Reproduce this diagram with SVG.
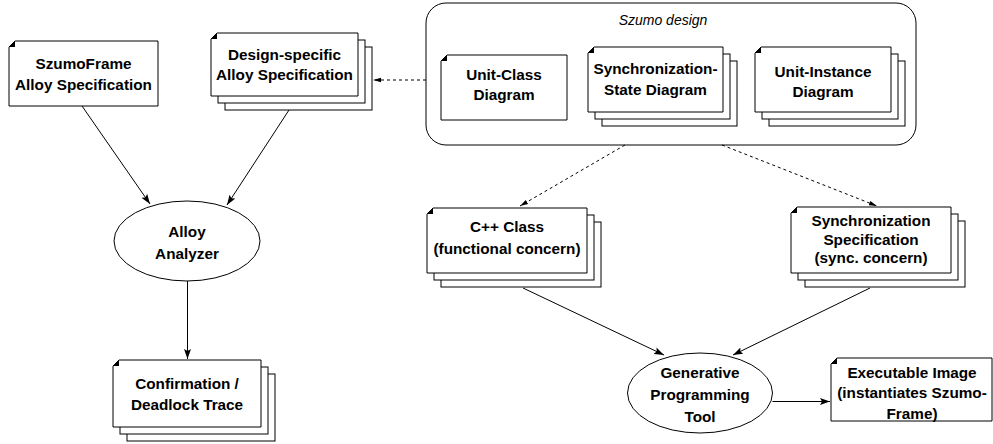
<svg xmlns="http://www.w3.org/2000/svg" width="993" height="444" viewBox="0 0 993 444">
  <style>
    .box { fill: #fff; stroke: #000; stroke-width: 1; }
    .fold { fill: #000; stroke: none; }
    .oval { fill: #fff; stroke: #000; stroke-width: 1; }
    .lbl { font-family: "Liberation Sans", Arial, Helvetica, sans-serif; font-weight: bold; font-size: 15.3px; fill: #000; text-anchor: middle; }
    .title { font-family: "Liberation Sans", Arial, Helvetica, sans-serif; font-style: italic; font-size: 14px; fill: #000; text-anchor: middle; }
    .edge { fill: none; stroke: #000; stroke-width: 1; }
    .dash { fill: none; stroke: #000; stroke-width: 1; stroke-dasharray: 3 3; }
  </style>
  <defs>
    <marker id="arrow" viewBox="0 0 10 8" refX="10" refY="4" markerWidth="10" markerHeight="8" markerUnits="userSpaceOnUse" orient="auto">
      <path d="M0,0.5 L10,4 L0,7.5 L2,4 Z" fill="#000"/>
    </marker>
    <marker id="darrow" viewBox="0 0 8 6" refX="8" refY="3" markerWidth="8" markerHeight="6" markerUnits="userSpaceOnUse" orient="auto">
      <path d="M0,0.8 L8,3 L0,5.2 Z" fill="#000"/>
    </marker>
  </defs>

  <!-- Container holding the design diagrams -->
  <g id="szumo-design">
    <rect x="426" y="3" width="490" height="142" rx="20" ry="20" class="box"/>
    <text x="663" y="25" class="title">Szumo design</text>
  </g>

  <!-- Connectors -->
  <g id="connectors">
    <line x1="82" y1="106" x2="150" y2="204" class="edge" marker-end="url(#arrow)"/>
    <line x1="289" y1="110" x2="227" y2="205" class="edge" marker-end="url(#arrow)"/>
    <line x1="187.5" y1="281" x2="187.5" y2="359" class="edge" marker-end="url(#arrow)"/>
    <line x1="426" y1="80" x2="373" y2="80" class="dash" marker-end="url(#darrow)"/>
    <line x1="625" y1="145" x2="520" y2="206" class="dash" marker-end="url(#darrow)"/>
    <line x1="722" y1="145" x2="877" y2="206" class="dash" marker-end="url(#darrow)"/>
    <line x1="523" y1="288" x2="664" y2="355" class="edge" marker-end="url(#arrow)"/>
    <line x1="870" y1="288" x2="733" y2="355" class="edge" marker-end="url(#arrow)"/>
    <line x1="772.5" y1="401.5" x2="830" y2="401.5" class="edge" marker-end="url(#arrow)"/>
  </g>

  <!-- SzumoFrame Alloy Specification -->
  <g id="szumoframe-spec">
    <path d="M9,47 L15,41 L158,41 L158,106 L9,106 Z" class="box"/>
    <path d="M9,47 L15,41 L15,47 Z" class="fold"/>
    <text x="83.5" y="69" class="lbl">SzumoFrame</text>
    <text x="83.5" y="90" class="lbl">Alloy Specification</text>
  </g>

  <!-- Design-specific Alloy Specification (stack) -->
  <g id="design-spec">
    <rect x="225" y="47" width="147" height="63" class="box"/>
    <rect x="218" y="40" width="147" height="63" class="box"/>
    <path d="M211,39 L217,33 L358,33 L358,96 L211,96 Z" class="box"/>
    <path d="M211,39 L217,33 L217,39 Z" class="fold"/>
    <text x="284.5" y="60" class="lbl">Design-specific</text>
    <text x="284.5" y="80" class="lbl">Alloy Specification</text>
  </g>

  <!-- Unit-Class Diagram -->
  <g id="unit-class">
    <path d="M441,61 L447,55 L567,55 L567,120 L441,120 Z" class="box"/>
    <path d="M441,61 L447,55 L447,61 Z" class="fold"/>
    <text x="504" y="80" class="lbl">Unit-Class</text>
    <text x="504" y="100" class="lbl">Diagram</text>
  </g>

  <!-- Synchronization-State Diagram (stack) -->
  <g id="sync-state">
    <rect x="602" y="61" width="135" height="65" class="box"/>
    <rect x="595" y="54" width="135" height="65" class="box"/>
    <path d="M588,53 L594,47 L723,47 L723,112 L588,112 Z" class="box"/>
    <path d="M588,53 L594,47 L594,53 Z" class="fold"/>
    <text x="655.5" y="74" class="lbl">Synchronization-</text>
    <text x="655.5" y="95" class="lbl">State Diagram</text>
  </g>

  <!-- Unit-Instance Diagram (stack) -->
  <g id="unit-instance">
    <rect x="769" y="61" width="136" height="65" class="box"/>
    <rect x="762" y="54" width="136" height="65" class="box"/>
    <path d="M755,53 L761,47 L891,47 L891,112 L755,112 Z" class="box"/>
    <path d="M755,53 L761,47 L761,53 Z" class="fold"/>
    <text x="823" y="76.5" class="lbl">Unit-Instance</text>
    <text x="823" y="96.5" class="lbl">Diagram</text>
  </g>

  <!-- Alloy Analyzer -->
  <g id="alloy-analyzer">
    <ellipse cx="187" cy="241" rx="73" ry="40" class="oval"/>
    <text x="187" y="236.5" class="lbl">Alloy</text>
    <text x="187" y="259" class="lbl">Analyzer</text>
  </g>

  <!-- Confirmation / Deadlock Trace (stack) -->
  <g id="confirmation">
    <rect x="127" y="374" width="148" height="67" class="box"/>
    <rect x="120" y="367" width="148" height="67" class="box"/>
    <path d="M113,366 L119,360 L261,360 L261,427 L113,427 Z" class="box"/>
    <path d="M113,366 L119,360 L119,366 Z" class="fold"/>
    <text x="187" y="388.5" class="lbl">Confirmation /</text>
    <text x="187" y="409.5" class="lbl">Deadlock Trace</text>
  </g>

  <!-- C++ Class (stack) -->
  <g id="cpp-class">
    <rect x="441" y="222" width="160" height="65" class="box"/>
    <rect x="434" y="215" width="160" height="65" class="box"/>
    <path d="M427,214 L433,208 L587,208 L587,273 L427,273 Z" class="box"/>
    <path d="M427,214 L433,208 L433,214 Z" class="fold"/>
    <text x="507" y="231.5" class="lbl">C++ Class</text>
    <text x="507" y="254" class="lbl">(functional concern)</text>
  </g>

  <!-- Synchronization Specification (stack) -->
  <g id="sync-spec">
    <rect x="805" y="221" width="160" height="66" class="box"/>
    <rect x="798" y="214" width="160" height="66" class="box"/>
    <path d="M791,213 L797,207 L951,207 L951,273 L791,273 Z" class="box"/>
    <path d="M791,213 L797,207 L797,213 Z" class="fold"/>
    <text x="871" y="226" class="lbl">Synchronization</text>
    <text x="871" y="244.5" class="lbl">Specification</text>
    <text x="871" y="263" class="lbl">(sync. concern)</text>
  </g>

  <!-- Generative Programming Tool -->
  <g id="generative-tool">
    <ellipse cx="700" cy="393" rx="72.5" ry="40" class="oval"/>
    <text x="700" y="378" class="lbl">Generative</text>
    <text x="700" y="400" class="lbl">Programming</text>
    <text x="700" y="421.5" class="lbl">Tool</text>
  </g>

  <!-- Executable Image -->
  <g id="executable-image">
    <path d="M831,364 L837,358 L992,358 L992,421 L831,421 Z" class="box"/>
    <path d="M831,364 L837,358 L837,364 Z" class="fold"/>
    <text x="912" y="377.5" class="lbl">Executable Image</text>
    <text x="912" y="398" class="lbl">(instantiates Szumo-</text>
    <text x="912" y="418.5" class="lbl">Frame)</text>
  </g>
</svg>
